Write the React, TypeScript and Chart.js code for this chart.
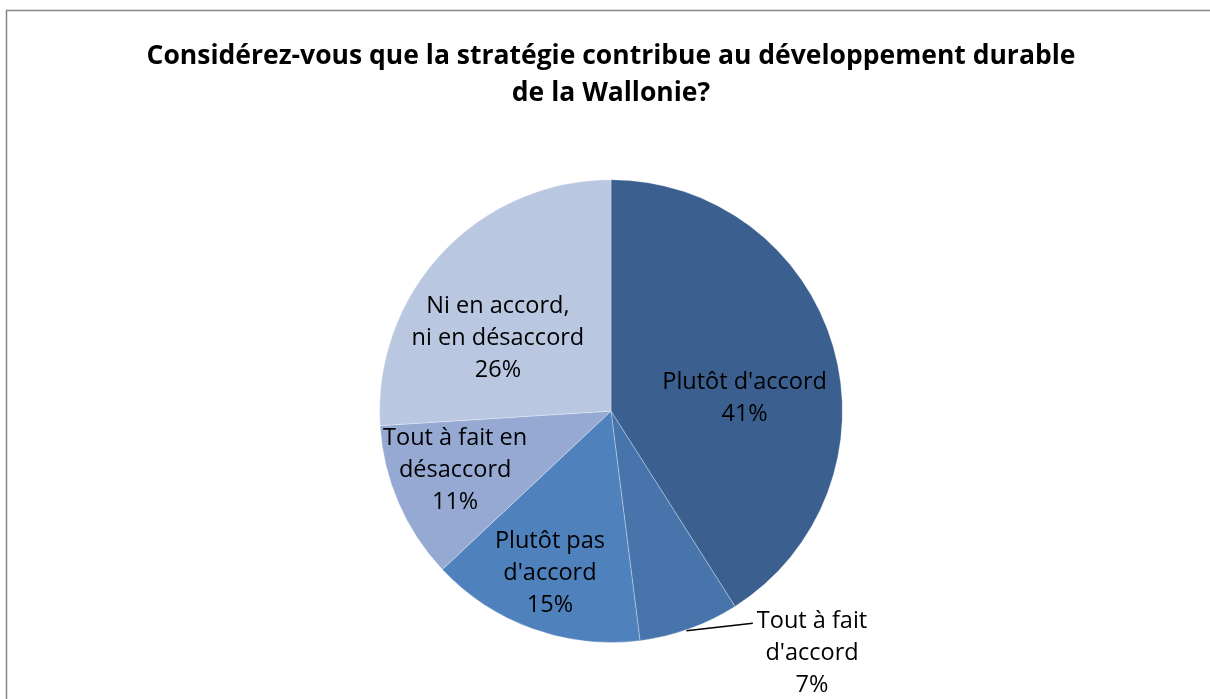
import React, { useEffect, useRef } from "react";
import { Chart, registerables } from "chart.js";

Chart.register(...registerables);

const titleLines = [
  "Considérez-vous que la stratégie contribue au développement durable",
  "de la Wallonie?",
];
const categories = [
  ["Plutôt d'accord"],
  ["Tout à fait", "d'accord"],
  ["Plutôt pas", "d'accord"],
  ["Tout à fait en", "désaccord"],
  ["Ni en accord,", "ni en désaccord"],
];
const values = [41, 7, 15, 11, 26];
const percentLabels = ["41%", "7%", "15%", "11%", "26%"];
const colors = ["#3B6090", "#4674AB", "#4F81BD", "#95A9D2", "#BAC7E0"];
// label placement: radial fraction of radius and angular nudge (deg) from slice middle
const labelRadius = [0.58, 1.36, 0.75, 0.72, 0.58];
const labelAngleShift = [10.7, -19.9, 0.8, 2.7, -10.6];
const labelHasLeader = [false, true, false, false, false];

const FONT = "'Open Sans', Lato, sans-serif";

const framePlugin = {
  id: "frame",
  beforeDraw(chart: any) {
    const ctx = chart.ctx;
    ctx.save();
    ctx.strokeStyle = "#868686";
    ctx.lineWidth = 1.5;
    ctx.strokeRect(6.5, 10.5, 1400, 900);
    ctx.restore();
  },
};

const labelPlugin = {
  id: "sliceLabels",
  afterDatasetsDraw(chart: any) {
    const ctx = chart.ctx;
    const meta = chart.getDatasetMeta(0);
    ctx.save();
    ctx.font = `23.5px ${FONT}`;
    ctx.fillStyle = "#000";
    ctx.textAlign = "center";
    ctx.textBaseline = "middle";
    const lh = 32;
    meta.data.forEach((arc: any, i: number) => {
      const p = arc.getProps(["x", "y", "startAngle", "endAngle", "outerRadius"], true);
      const mid = (p.startAngle + p.endAngle) / 2;
      const a = mid + (labelAngleShift[i] * Math.PI) / 180;
      const r = p.outerRadius * labelRadius[i];
      const cx = p.x + Math.cos(a) * r;
      const cy = p.y + Math.sin(a) * r;
      const lines = [...categories[i], percentLabels[i]];
      const y0 = cy - ((lines.length - 1) * lh) / 2;
      lines.forEach((t, k) => ctx.fillText(t, cx, y0 + k * lh));
      if (labelHasLeader[i]) {
        const ex = p.x + Math.cos(mid) * p.outerRadius;
        const ey = p.y + Math.sin(mid) * p.outerRadius;
        const w = ctx.measureText(categories[i][0]).width;
        ctx.beginPath();
        ctx.strokeStyle = "#000";
        ctx.lineWidth = 1.5;
        ctx.moveTo(cx - w / 2 - 4, y0 + 2);
        ctx.lineTo(ex - 3, ey + 2);
        ctx.stroke();
      }
    });
    ctx.restore();
  },
};

export default function App() {
  const ref = useRef<HTMLCanvasElement>(null);
  useEffect(() => {
    if (!ref.current) return;
    const chart = new Chart(ref.current, {
      type: "pie",
      data: {
        labels: categories.map((c) => c.join(" ")),
        datasets: [
          {
            data: values,
            backgroundColor: colors,
            borderColor: "rgba(255,255,255,0.3)",
            borderWidth: 1,
          },
        ],
      },
      options: {
        animation: false,
        responsive: false,
        events: [],
        layout: { padding: { left: 12, right: 0, top: 0, bottom: 56 } },
        plugins: {
          legend: { display: false },
          tooltip: { enabled: false },
          title: {
            display: true,
            text: titleLines,
            color: "#000",
            font: { family: FONT, size: 26.5, weight: "bold", lineHeight: 1.4 },
            padding: { top: 38, bottom: 67 },
          },
        },
      },
      plugins: [framePlugin, labelPlugin],
    });
    return () => chart.destroy();
  }, []);
  return (
    <div style={{ position: "fixed", left: 0, top: 0, width: 1210, height: 699, background: "#fff" }}>
      <canvas ref={ref} width={1210} height={699} style={{ display: "block" }} />
    </div>
  );
}
